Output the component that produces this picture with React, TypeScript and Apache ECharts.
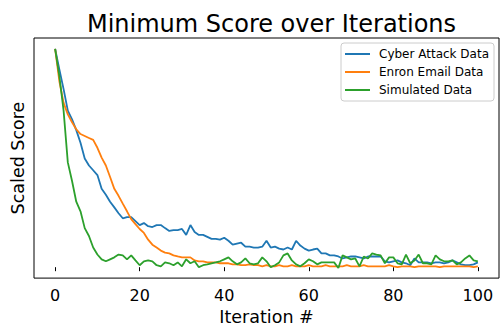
import React, { useEffect, useRef } from "react";
import * as echarts from "echarts";

const iterations: number[] = Array.from({ length: 101 }, (_, i) => i);

const cyberAttack: number[] = [
  1.0, 0.906, 0.816, 0.717, 0.677, 0.628, 0.57, 0.498, 0.466, 0.444,
  0.422, 0.359, 0.332, 0.3, 0.274, 0.247, 0.224, 0.229, 0.229, 0.211,
  0.193, 0.202, 0.188, 0.184, 0.193, 0.193, 0.179, 0.166, 0.17, 0.17,
  0.175, 0.148, 0.193, 0.161, 0.148, 0.148, 0.139, 0.13, 0.13, 0.126,
  0.135, 0.121, 0.103, 0.108, 0.112, 0.094, 0.094, 0.09, 0.09, 0.094,
  0.121, 0.09, 0.094, 0.085, 0.081, 0.09, 0.081, 0.121, 0.099, 0.085,
  0.076, 0.081, 0.085, 0.063, 0.063, 0.054, 0.054, 0.049, 0.04, 0.045,
  0.049, 0.049, 0.045, 0.04, 0.049, 0.049, 0.049, 0.049, 0.027, 0.022,
  0.027, 0.031, 0.022, 0.018, 0.009, 0.04, 0.022, 0.022, 0.022, 0.018,
  0.022, 0.022, 0.018, 0.022, 0.031, 0.022, 0.013, 0.009, 0.009, 0.013,
  0.022,
];

const enronEmail: number[] = [
  1.0, 0.852, 0.753, 0.7, 0.664, 0.632, 0.61, 0.601, 0.592, 0.583,
  0.547, 0.502, 0.466, 0.413, 0.359, 0.327, 0.291, 0.256, 0.22, 0.197,
  0.175, 0.157, 0.126, 0.103, 0.09, 0.076, 0.067, 0.063, 0.054, 0.049,
  0.045, 0.045, 0.045, 0.031, 0.027, 0.027, 0.022, 0.022, 0.022, 0.018,
  0.018, 0.018, 0.013, 0.013, 0.009, 0.009, 0.013, 0.009, 0.009, 0.004,
  0.009, 0.004, 0.004, 0.009, 0.004, 0.004, 0.009, 0.004, 0.004, 0.004,
  0.009, 0.004, 0.004, 0.004, 0.009, 0.004, 0.004, 0.004, 0.004, 0.009,
  0.004, 0.004, 0.004, 0.009, 0.004, 0.004, 0.004, 0.004, 0.004, 0.009,
  0.004, 0.0, 0.004, 0.004, 0.004, 0.0, 0.004, 0.004, 0.004, 0.004,
  0.004, 0.0, 0.004, 0.004, 0.004, 0.004, 0.004, 0.004, 0.004, 0.0,
  0.004,
];

const simulated: number[] = [
  1.0, 0.875, 0.717, 0.48, 0.395, 0.3, 0.256, 0.179, 0.143, 0.09,
  0.058, 0.036, 0.027, 0.036, 0.045, 0.058, 0.054, 0.036, 0.054, 0.031,
  0.009, 0.027, 0.031, 0.027, 0.009, 0.004, 0.022, 0.018, 0.009, 0.022,
  0.004, 0.036, 0.018, 0.027, 0.0, 0.009, 0.013, 0.018, 0.022, 0.027,
  0.036, 0.045, 0.027, 0.013, 0.022, 0.04, 0.018, 0.013, 0.018, 0.045,
  0.027, 0.0, 0.009, 0.022, 0.054, 0.063, 0.031, 0.013, 0.004, 0.018,
  0.036, 0.027, 0.013, 0.022, 0.022, 0.022, 0.022, -0.004, 0.054, 0.045,
  0.036, 0.04, 0.004, 0.049, 0.04, 0.063, 0.058, 0.054, 0.018, 0.045,
  0.045, 0.018, 0.013, 0.058, 0.018, 0.031, 0.058, 0.018, 0.018, 0.013,
  0.054, 0.036, 0.027, 0.027, 0.031, 0.013, 0.022, 0.04, 0.054, 0.031,
  0.027,
];

const xTicks: number[] = [0, 20, 40, 60, 80, 100];

const seriesNames = ["Cyber Attack Data", "Enron Email Data", "Simulated Data"];
const seriesColors = ["#1f77b4", "#ff7f0e", "#2ca02c"];

const FONT = "DejaVu Sans";

export default function App() {
  const ref = useRef<HTMLDivElement>(null);

  useEffect(() => {
    if (!ref.current) return;
    const chart = echarts.init(ref.current, undefined, { renderer: "svg" });
    const allSeries = [cyberAttack, enronEmail, simulated];
    chart.setOption({
      animation: false,
      backgroundColor: "#ffffff",
      title: {
        text: "Minimum Score over Iterations",
        left: 266.5,
        top: 7,
        textAlign: "center",
        textStyle: { fontFamily: FONT, fontSize: 24, fontWeight: "normal", color: "#000" },
      },
      legend: {
        orient: "vertical",
        left: 341,
        top: 43,
        padding: [4, 5, 4, 4],
        itemGap: 4,
        itemWidth: 25,
        itemHeight: 2,
        icon: "rect",
        borderColor: "#cccccc",
        borderWidth: 1,
        borderRadius: 3,
        backgroundColor: "rgba(255,255,255,0.8)",
        textStyle: { fontFamily: FONT, fontSize: 12, color: "#000", lineHeight: 14, padding: [0, 0, 0, 4] },
        data: seriesNames,
      },
      grid: {
        left: 34,
        top: 38,
        right: 5,
        bottom: 48,
        show: true,
        borderColor: "#000",
        borderWidth: 1,
        backgroundColor: "transparent",
      },
      xAxis: {
        type: "value",
        min: -5,
        max: 105,
        name: "Iteration #",
        nameLocation: "middle",
        nameGap: 28,
        nameTextStyle: { fontFamily: FONT, fontSize: 17.5, color: "#000" },
        axisLine: { show: false },
        splitLine: { show: false },
        axisTick: { show: true, inside: false, length: 4, customValues: xTicks, lineStyle: { color: "#000", width: 1 } },
        axisLabel: { customValues: xTicks, fontFamily: FONT, fontSize: 16, color: "#000", margin: 9 },
      },
      yAxis: {
        type: "value",
        min: -0.05,
        max: 1.05,
        name: "Scaled Score",
        nameLocation: "middle",
        nameGap: 7,
        nameRotate: 90,
        nameTextStyle: { fontFamily: FONT, fontSize: 17.5, color: "#000" },
        axisLine: { show: false },
        axisTick: { show: false },
        axisLabel: { show: false },
        splitLine: { show: false },
      },
      series: allSeries.map((vals, k) => ({
        name: seriesNames[k],
        type: "line",
        data: iterations.map((it, i) => [it, vals[i]]),
        showSymbol: false,
        symbol: "none",
        color: seriesColors[k],
        lineStyle: { color: seriesColors[k], width: 1.8 },
        z: 2 + k,
      })),
    });
    return () => chart.dispose();
  }, []);

  return (
    <div
      ref={ref}
      style={{ position: "fixed", left: 0, top: 0, width: 504, height: 331 }}
    />
  );
}
